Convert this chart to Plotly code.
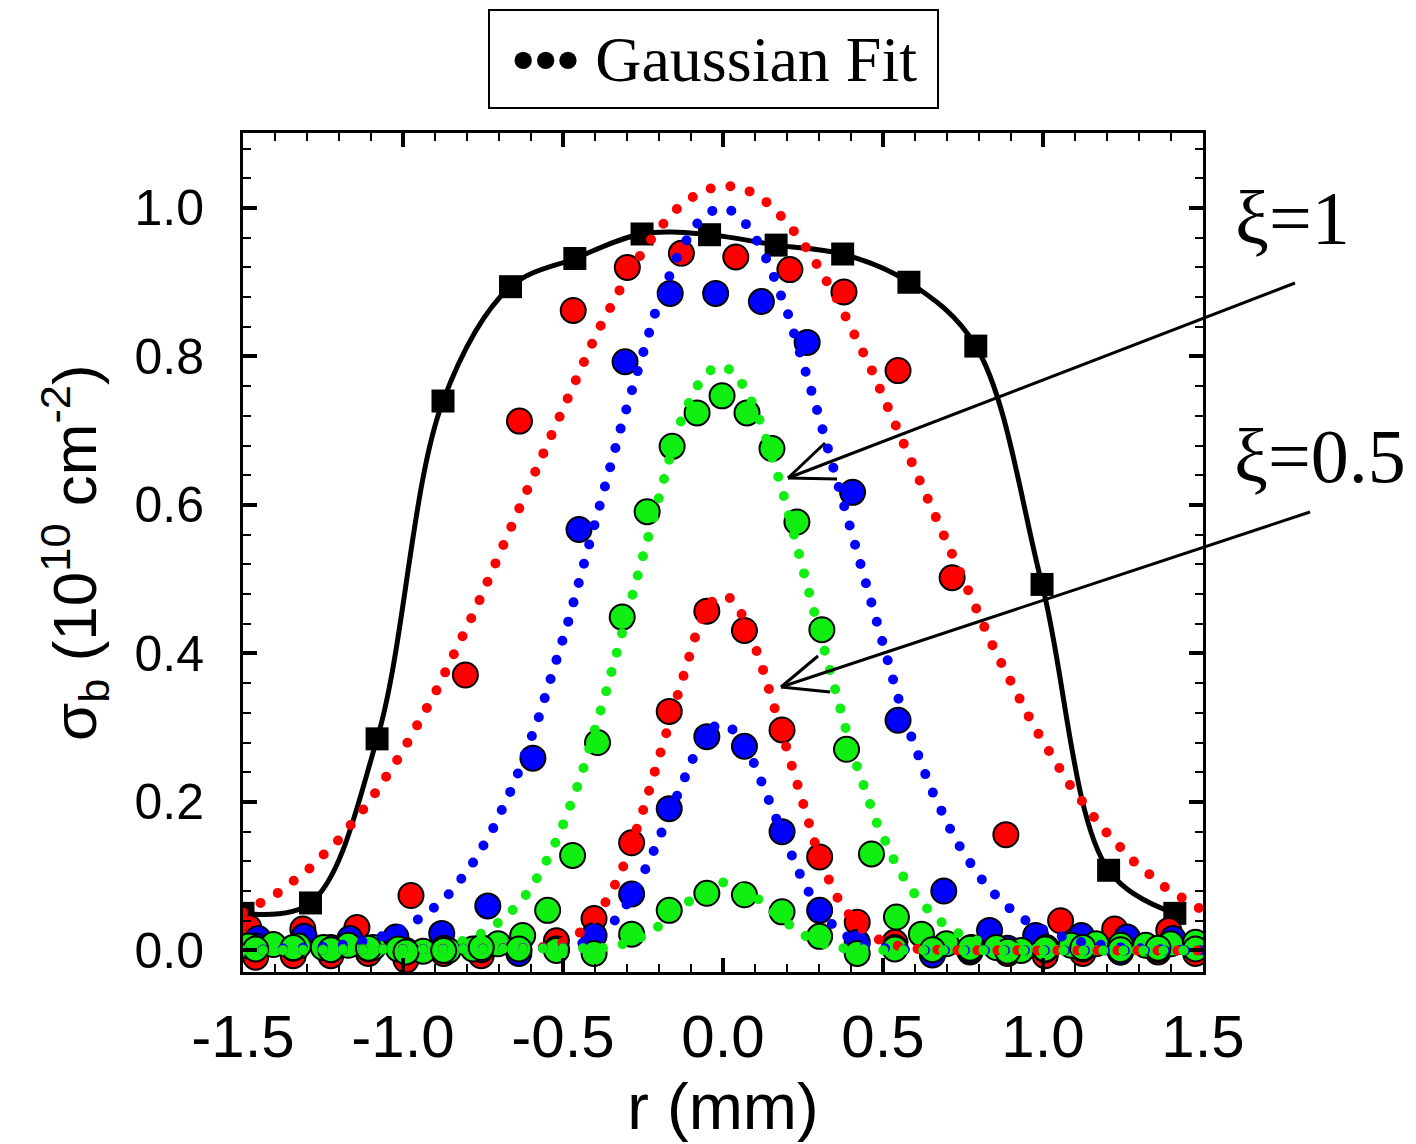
import numpy as np
import plotly.graph_objects as go

# ---- measured profiles -------------------------------------------------
# black reference profile (squares, smooth line)
sq_r = [-1.500, -1.289, -1.081, -0.875, -0.664, -0.463, -0.253, -0.042,
        0.166, 0.374, 0.581, 0.790, 0.997, 1.205, 1.412]
sq_s = [0.050, 0.064, 0.285, 0.740, 0.894, 0.932, 0.965, 0.964,
        0.950, 0.938, 0.900, 0.814, 0.493, 0.108, 0.050]

# xi = 1 set
red1_r = [-1.482, -1.313, -1.144, -0.975, -0.805, -0.636, -0.468, -0.299, -0.130,
          0.040, 0.209, 0.378, 0.547, 0.716, 0.884, 1.055, 1.224, 1.393]
red1_s = [0.031, 0.029, 0.031, 0.074, 0.371, 0.713, 0.862, 0.920, 0.939,
          0.934, 0.917, 0.887, 0.781, 0.502, 0.156, 0.040, 0.029, 0.027]

blue1_r = [-1.453, -1.309, -1.166, -1.022, -0.879, -0.735, -0.594, -0.450, -0.306,
           -0.165, -0.023, 0.120, 0.263, 0.405, 0.547, 0.690, 0.833, 0.977,
           1.120, 1.263, 1.406]
blue1_s = [0.016, 0.019, 0.016, 0.018, 0.023, 0.060, 0.259, 0.567, 0.793,
           0.885, 0.885, 0.874, 0.819, 0.617, 0.310, 0.080, 0.027, 0.020,
           0.020, 0.018, 0.016]

green1_r = [-1.483, -1.405, -1.327, -1.249, -1.171, -1.093, -1.015, -0.937, -0.859,
            -0.781, -0.703, -0.626, -0.548, -0.470, -0.392, -0.315, -0.237, -0.159,
            -0.081, -0.003, 0.075, 0.153, 0.231, 0.309, 0.386, 0.464, 0.542,
            0.620, 0.698, 0.776, 0.854, 0.932, 1.010, 1.088, 1.166, 1.243,
            1.321, 1.399, 1.477]
green1_s = [0.006, 0.008, 0.006, 0.004, 0.007, 0.004, 0.002, -0.001, 0.000,
            0.002, 0.009, 0.020, 0.054, 0.128, 0.280, 0.449, 0.591, 0.679,
            0.724, 0.747, 0.724, 0.676, 0.577, 0.432, 0.271, 0.130, 0.045,
            0.022, 0.009, 0.004, 0.004, 0.000, 0.004, 0.007, 0.009, 0.007,
            0.007, 0.009, 0.011]

# xi = 0.5 set (common radial grid)
r2 = [-1.4605, -1.343, -1.2255, -1.108, -0.9905, -0.873, -0.7555, -0.638, -0.5205,
      -0.403, -0.2855, -0.168, -0.0505, 0.067, 0.1845, 0.302, 0.4195, 0.537,
      0.6545, 0.772, 0.8895, 1.007, 1.1245, 1.242, 1.3595, 1.477]
red2_s = [-0.009, -0.007, -0.007, -0.004, -0.013, -0.004, -0.007, 0.000, 0.013,
          0.043, 0.145, 0.322, 0.457, 0.431, 0.297, 0.126, 0.038, 0.011,
          -0.004, -0.002, -0.004, -0.007, -0.004, -0.002, -0.002, -0.004]
blue2_s = [0.006, 0.003, 0.004, 0.002, 0.000, 0.003, 0.001, -0.004, 0.002,
           0.020, 0.076, 0.191, 0.288, 0.275, 0.160, 0.054, 0.011, 0.004,
           -0.006, 0.000, 0.003, 0.001, 0.002, -0.002, 0.001, 0.003]
green2_s = [0.002, 0.004, 0.001, 0.003, -0.002, 0.000, 0.004, 0.002, 0.000,
            -0.004, 0.022, 0.054, 0.077, 0.075, 0.052, 0.019, -0.004, 0.002,
            0.001, 0.003, -0.001, 0.002, 0.004, 0.001, 0.003, 0.002]

# Gaussian fit parameters: amplitude, centre (mm), sigma (mm)
fit_red1 = (1.030, 0.008, 0.615)
fit_blue1 = (1.000, -0.005, 0.375)
fit_green1 = (0.787, -0.008, 0.280)
fit_red2 = (0.478, 0.000, 0.183)
fit_blue2 = (0.305, -0.005, 0.165)
fit_green2 = (0.092, 0.005, 0.142)

# axis tick labels (plain hyphen for negatives)
x_ticks = [-1.5, -1.0, -0.5, 0.0, 0.5, 1.0, 1.5]
x_ticklabels = ["-1.5", "-1.0", "-0.5", "0.0", "0.5", "1.0", "1.5"]
y_ticks = [0.0, 0.2, 0.4, 0.6, 0.8, 1.0]
y_ticklabels = ["0.0", "0.2", "0.4", "0.6", "0.8", "1.0"]

RED, BLUE, GREEN = "#ff0000", "#0000ff", "#11ee11"

fig = go.Figure()

# solid reference curve with squares
fig.add_trace(go.Scatter(x=sq_r, y=sq_s, mode="lines+markers",
                         line=dict(color="black", width=5, shape="spline", smoothing=1.0),
                         marker=dict(symbol="square", size=23, color="black"),
                         showlegend=False))

# measured points (circles)
for rr, ss, col in [(red1_r, red1_s, RED), (r2, red2_s, RED),
                    (blue1_r, blue1_s, BLUE), (r2, blue2_s, BLUE),
                    (green1_r, green1_s, GREEN), (r2, green2_s, GREEN)]:
    fig.add_trace(go.Scatter(x=rr, y=ss, mode="markers",
                             marker=dict(symbol="circle", size=25, color=col,
                                         line=dict(color="black", width=2)),
                             showlegend=False))

# dotted Gaussian fits
rg = np.linspace(-1.5, 1.5, 1201)
for (amp, cen, sig), col in [(fit_red1, RED), (fit_blue1, BLUE), (fit_green1, GREEN),
                             (fit_red2, RED), (fit_blue2, BLUE), (fit_green2, GREEN)]:
    fig.add_trace(go.Scatter(x=rg, y=amp * np.exp(-(rg - cen) ** 2 / (2 * sig ** 2)),
                             mode="lines",
                             line=dict(color=col, width=10, dash="0px,20px"),
                             showlegend=False))

# ---- frame geometry (pixels) ----------------------------------------------
W, H = 1416, 1144
L, R, T, B = 243, 1203, 133, 972


def px(x, y):
    """pixel position -> paper coordinates"""
    return (x - L) / (R - L), (B - y) / (B - T)


shapes = []


def seg(p0, p1, width=3):
    x0, y0 = px(*p0)
    x1, y1 = px(*p1)
    shapes.append(dict(type="line", xref="paper", yref="paper",
                       x0=x0, y0=y0, x1=x1, y1=y1,
                       line=dict(color="black", width=width)))


# arrows pointing at the xi curves
seg((1295, 283), (788, 478))
seg((788, 478), (825, 443))
seg((788, 478), (837, 479))
seg((1310, 512), (781, 687))
seg((781, 687), (818, 656))
seg((781, 687), (830, 692))

# legend frame
bx0, by0 = px(489, 108)
bx1, by1 = px(938, 10)
shapes.append(dict(type="rect", xref="paper", yref="paper", x0=bx0, y0=by0, x1=bx1, y1=by1,
                   line=dict(color="black", width=2), fillcolor="white"))

serif = "Liberation Serif"
sans = "Liberation Sans"
annotations = []
lx, ly = px(714, 60)
annotations.append(dict(xref="paper", yref="paper", x=lx, y=ly, showarrow=False,
                        text="<b>•••</b> Gaussian Fit",
                        font=dict(family=serif, size=64, color="black"),
                        xanchor="center", yanchor="middle"))
ax1, ay1 = px(1292, 218)
annotations.append(dict(xref="paper", yref="paper", x=ax1, y=ay1, showarrow=False,
                        text="ξ=1", font=dict(family=serif, size=76, color="black"),
                        xanchor="center", yanchor="middle"))
ax2, ay2 = px(1320, 456)
annotations.append(dict(xref="paper", yref="paper", x=ax2, y=ay2, showarrow=False,
                        text="ξ=0.5", font=dict(family=serif, size=76, color="black"),
                        xanchor="center", yanchor="middle"))
# vertical axis title
tx, ty = px(74, 553)
annotations.append(dict(xref="paper", yref="paper", x=tx, y=ty, showarrow=False,
                        text="σ<sub>b</sub> (10<sup>10</sup> cm<sup>-2</sup>)",
                        textangle=-90,
                        font=dict(family=sans, size=62, color="black"),
                        xanchor="center", yanchor="middle"))

axis_common = dict(showline=True, linecolor="black", linewidth=3, mirror="allticks",
                   ticks="inside", ticklen=14, tickwidth=4, tickcolor="black",
                   showgrid=False, zeroline=False, tickmode="array")

fig.update_layout(
    width=W, height=H,
    margin=dict(l=L, r=W - R, t=T, b=H - B, autoexpand=False),
    paper_bgcolor="white", plot_bgcolor="white",
    shapes=shapes, annotations=annotations,
    xaxis=dict(range=[-1.5, 1.5], tickvals=x_ticks, ticktext=x_ticklabels,
               minor=dict(ticks="inside", ticklen=8, tickwidth=2, tickcolor="black",
                          tickmode="linear", tick0=0, dtick=0.1),
               tickfont=dict(family=sans, size=60, color="black"),
               ticklabelstandoff=10,
               title=dict(text="r (mm)", font=dict(family=sans, size=65, color="black"),
                          standoff=6),
               **axis_common),
    yaxis=dict(range=[-0.029, 1.101], tickvals=y_ticks, ticktext=y_ticklabels,
               minor=dict(ticks="inside", ticklen=8, tickwidth=2, tickcolor="black",
                          tickmode="linear", tick0=0, dtick=0.04),
               tickfont=dict(family=sans, size=50, color="black"),
               ticklabelstandoff=26,
               **axis_common),
)

round_caps = ("var s=document.createElement('style');"
              "s.textContent='.scatterlayer .js-line{stroke-linecap:round !important}';"
              "document.head.appendChild(s);")
fig.write_html("out.html", post_script=round_caps)
